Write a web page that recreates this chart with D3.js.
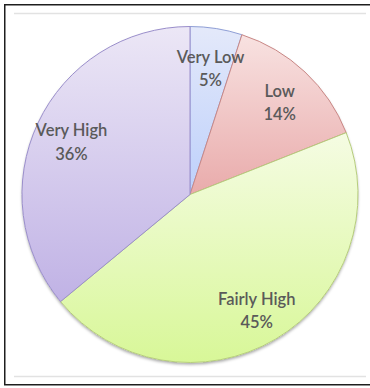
<!DOCTYPE html>
<html>
<head>
<meta charset="utf-8">
<script src="https://cdn.jsdelivr.net/npm/d3@7"></script>
<style>
  html, body { margin: 0; padding: 0; background: #fff; }
  svg { display: block; }
</style>
</head>
<body>
<svg id="chart" width="370" height="388"></svg>
<script>
// Share of responses per level, clockwise from 12 o'clock
const categories = ["Very Low", "Low", "Fairly High", "Very High"];
const values = [5, 14, 45, 36];
const topColors = ["#e4e9fa", "#f8e2e1", "#f5fce3", "#ece7f6"];
const bottomColors = ["#bdd0fb", "#e9abab", "#d8f798", "#c0b2e5"];
const strokeColors = ["#8f9fd6", "#c98886", "#b6cd7c", "#9a8ecb"];

const svg = d3.select("#chart");
const cx = 190, cy = 194.5, R = 168;

// Outer frame and thin guide rules
svg.append("rect")
  .attr("x", 4.75).attr("y", 4.75)
  .attr("width", 372).attr("height", 380)
  .attr("fill", "#fff").attr("stroke", "#1e1e1e").attr("stroke-width", 1.5);
svg.append("line")
  .attr("x1", 14).attr("x2", 366).attr("y1", 13.5).attr("y2", 13.5)
  .attr("stroke", "#e2e2e2").attr("stroke-width", 1.5);
svg.append("line")
  .attr("x1", 14).attr("x2", 366).attr("y1", 376.5).attr("y2", 376.5)
  .attr("stroke", "#e2e2e2").attr("stroke-width", 1.5);

// Vertical gradient per slice, light at the top of each wedge
const defs = svg.append("defs");
categories.forEach((c, i) => {
  const g = defs.append("linearGradient")
    .attr("id", "grad" + i)
    .attr("x1", 0).attr("y1", 0)
    .attr("x2", 0).attr("y2", 1);
  g.append("stop").attr("offset", "0%").attr("stop-color", topColors[i]);
  g.append("stop").attr("offset", "100%").attr("stop-color", bottomColors[i]);
});
const shadow = defs.append("filter").attr("id", "shadow")
  .attr("x", "-10%").attr("y", "-10%").attr("width", "120%").attr("height", "120%");
shadow.append("feDropShadow")
  .attr("dx", 0).attr("dy", 2).attr("stdDeviation", 1.6)
  .attr("flood-color", "#000").attr("flood-opacity", 0.35);

const pie = d3.pie().sort(null).value(d => d)(values);
const arc = d3.arc().innerRadius(0).outerRadius(R);
const labelArc = d3.arc().innerRadius(131).outerRadius(131);

const g = svg.append("g").attr("transform", `translate(${cx},${cy})`);

g.append("circle").attr("r", R).attr("fill", "#fff").attr("filter", "url(#shadow)");

g.selectAll("path.slice")
  .data(pie)
  .join("path")
  .attr("class", "slice")
  .attr("d", arc)
  .attr("fill", (d, i) => `url(#grad${i})`)
  .attr("stroke", (d, i) => strokeColors[i])
  .attr("stroke-width", 1);

const labels = g.selectAll("text.lbl")
  .data(pie)
  .join("text")
  .attr("class", "lbl")
  .attr("transform", d => `translate(${labelArc.centroid(d)})`)
  .attr("text-anchor", "middle")
  .attr("font-family", "Lato, 'Open Sans', sans-serif")
  .attr("font-size", 16.5)
  .attr("font-weight", 600)
  .attr("fill", "#5a5a5a");
labels.append("tspan").attr("x", 0).attr("dy", "-0.15em").text((d, i) => categories[i]);
labels.append("tspan").attr("x", 0).attr("dy", "1.42em").text((d, i) => values[i] + "%");
</script>
</body>
</html>
